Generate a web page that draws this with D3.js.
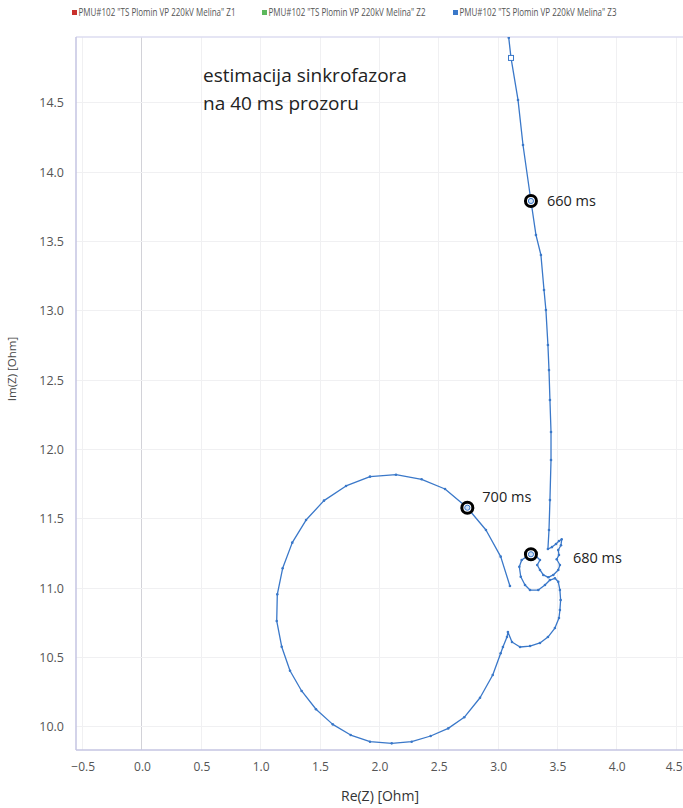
<!DOCTYPE html>
<html>
<head>
<meta charset="utf-8">
<script src="https://cdn.jsdelivr.net/npm/d3@7"></script>
<style>
  html, body { margin: 0; padding: 0; background: #fff; }
  svg { display: block; font-family: "Open Sans", "Noto Sans", sans-serif; }
</style>
</head>
<body>
<svg id="chart" width="683" height="808"></svg>
<script>
// Series names shown in the legend
const seriesNames = [
  'PMU#102 "TS Plomin VP 220kV Melina" Z1',
  'PMU#102 "TS Plomin VP 220kV Melina" Z2',
  'PMU#102 "TS Plomin VP 220kV Melina" Z3'
];
const seriesColors = ["#c9302c", "#5cb85c", "#3a78c9"];

// Z3 impedance trajectory: real part [Ohm]
const re = [
  3.090, 3.109, 3.168, 3.210, 3.277, 3.319, 3.361, 3.387, 3.403, 3.420,
  3.429, 3.437, 3.446, 3.446, 3.437, 3.429, 3.420,
  3.454, 3.488, 3.513, 3.536, 3.530, 3.507, 3.513, 3.494, 3.521, 3.507,
  3.465, 3.423, 3.381, 3.353, 3.330, 3.353, 3.319, 3.277,
  3.241, 3.199, 3.179, 3.191, 3.227, 3.269, 3.339, 3.395, 3.437, 3.479,
  3.507, 3.521, 3.527, 3.521, 3.513, 3.479, 3.420, 3.353, 3.269, 3.185,
  3.117, 3.083, 3.075, 3.041, 3.022,
  2.955, 2.848, 2.715, 2.580, 2.432, 2.272, 2.104, 1.921, 1.758, 1.607,
  1.466, 1.345, 1.247, 1.177, 1.135, 1.140, 1.185, 1.266, 1.382, 1.533,
  1.719, 1.921, 2.140, 2.356, 2.553, 2.741, 2.898, 3.022, 3.100
];
// Z3 impedance trajectory: imaginary part [Ohm]
const im = [
  14.970, 14.825, 14.522, 14.197, 13.793, 13.548, 13.403, 13.151, 13.006, 12.754,
  12.573, 12.357, 12.126, 11.924, 11.635, 11.419, 11.282,
  11.296, 11.318, 11.340, 11.352, 11.309, 11.275, 11.239, 11.208, 11.167, 11.131,
  11.095, 11.078, 11.095, 11.131, 11.167, 11.203, 11.232, 11.244,
  11.227, 11.203, 11.154, 11.082, 11.022, 10.986, 10.986, 11.022, 11.058, 11.071,
  11.046, 10.986, 10.914, 10.842, 10.784, 10.712, 10.647, 10.604, 10.582, 10.575,
  10.611, 10.683, 10.647, 10.575, 10.530,
  10.373, 10.209, 10.068, 9.988, 9.933, 9.892, 9.880, 9.892, 9.940, 10.017,
  10.126, 10.258, 10.404, 10.577, 10.763, 10.955, 11.143, 11.328, 11.491, 11.631,
  11.737, 11.804, 11.818, 11.785, 11.715, 11.580, 11.419, 11.227, 11.015
];

// Time stamps marked on the trajectory
const markerLabels = ["660 ms", "680 ms", "700 ms"];
const markerRe = [3.277, 3.277, 2.741];
const markerIm = [13.793, 11.244, 11.580];

// Axis ticks
const xTicks = [-0.5, 0.0, 0.5, 1.0, 1.5, 2.0, 2.5, 3.0, 3.5, 4.0, 4.5];
const yTicks = [10.0, 10.5, 11.0, 11.5, 12.0, 12.5, 13.0, 13.5, 14.0, 14.5];

const annotationLines = ["estimacija sinkrofazora", "na 40 ms prozoru"];

// ---- layout ----
const plot = { left: 76, right: 683, top: 37, bottom: 750 };
const svg = d3.select("#chart");

const x = d3.scaleLinear().domain([-0.556, 4.558]).range([plot.left, plot.right]);
const y = d3.scaleLinear().domain([9.832, 14.976]).range([plot.bottom, plot.top]);

// gridlines
const grid = svg.append("g");
grid.selectAll("line.vx").data(xTicks).join("line")
  .attr("x1", d => x(d)).attr("x2", d => x(d))
  .attr("y1", plot.top).attr("y2", plot.bottom)
  .attr("stroke", d => d === 0 ? "#d2d2d8" : "#f0f0f2")
  .attr("stroke-width", 1).attr("shape-rendering", "crispEdges");
grid.selectAll("line.hy").data(yTicks).join("line")
  .attr("x1", plot.left).attr("x2", plot.right)
  .attr("y1", d => y(d)).attr("y2", d => y(d))
  .attr("stroke", "#f0f0f2").attr("stroke-width", 1)
  .attr("shape-rendering", "crispEdges");

// frame lines
svg.append("line").attr("x1", plot.left).attr("x2", plot.right)
  .attr("y1", plot.top).attr("y2", plot.top)
  .attr("stroke", "#dcdcf0").attr("stroke-width", 1.5);
svg.append("line").attr("x1", plot.left).attr("x2", plot.left)
  .attr("y1", plot.top).attr("y2", plot.bottom)
  .attr("stroke", "#c4c4e2").attr("stroke-width", 1.5);
svg.append("line").attr("x1", plot.left).attr("x2", plot.right)
  .attr("y1", plot.bottom).attr("y2", plot.bottom)
  .attr("stroke", "#c4c4e2").attr("stroke-width", 1.5);

// axes (labels only, lines drawn above)
const xAxis = d3.axisBottom(x).tickValues(xTicks).tickFormat(d3.format(".1f")).tickSize(0).tickPadding(12);
const gx = svg.append("g").attr("transform", `translate(0,${plot.bottom})`).call(xAxis);
gx.select(".domain").remove();
gx.selectAll("text").attr("font-size", 12).attr("fill", "#555")
  .attr("font-family", "'Open Sans', sans-serif");
// keep the last label inside the page edge
gx.selectAll(".tick").filter(d => d === xTicks[xTicks.length - 1])
  .select("text").attr("text-anchor", "end").attr("x", 682 - x(xTicks[xTicks.length - 1]));

const yAxis = d3.axisLeft(y).tickValues(yTicks).tickFormat(d3.format(".1f")).tickSize(0).tickPadding(12);
const gy = svg.append("g").attr("transform", `translate(${plot.left},0)`).call(yAxis);
gy.select(".domain").remove();
gy.selectAll("text").attr("font-size", 12.5).attr("fill", "#555")
  .attr("font-family", "'Open Sans', sans-serif");

// axis titles
svg.append("text").attr("x", 380).attr("y", 801).attr("text-anchor", "middle")
  .attr("font-size", 14).attr("fill", "#333").text("Re(Z) [Ohm]");
svg.append("text").attr("transform", "translate(16,369) rotate(-90)")
  .attr("text-anchor", "middle").attr("font-size", 11.5).attr("fill", "#444")
  .text("Im(Z) [Ohm]");

// legend
const legendX = [72, 262, 453];
const lg = svg.append("g");
seriesNames.forEach((name, i) => {
  lg.append("rect").attr("x", legendX[i]).attr("y", 10).attr("width", 5).attr("height", 5)
    .attr("fill", seriesColors[i]);
  lg.append("text").attr("x", legendX[i] + 6.5).attr("y", 16)
    .attr("font-size", 10).attr("fill", "#555")
    .attr("textLength", 157).attr("lengthAdjust", "spacingAndGlyphs")
    .text(name);
});

// annotation
svg.append("g").selectAll("text").data(annotationLines).join("text")
  .attr("x", 203).attr("y", (d, i) => 82 + i * 28)
  .attr("font-size", 19).attr("fill", "#222").text(d => d);

// trajectory
const pts = re.map((v, i) => [v, im[i]]);
svg.append("defs").append("clipPath").attr("id", "plotClip")
  .append("rect").attr("x", plot.left).attr("y", plot.top)
  .attr("width", plot.right - plot.left).attr("height", plot.bottom - plot.top);

const gTraj = svg.append("g").attr("clip-path", "url(#plotClip)");
const line = d3.line().x(d => x(d[0])).y(d => y(d[1]));
gTraj.append("path").datum(pts).attr("d", line)
  .attr("fill", "none").attr("stroke", seriesColors[2])
  .attr("stroke-width", 1.3).attr("stroke-linejoin", "round");
gTraj.selectAll("circle.pt").data(pts).join("circle")
  .attr("cx", d => x(d[0])).attr("cy", d => y(d[1])).attr("r", 1.3)
  .attr("fill", seriesColors[2]);

// selected sample (hollow square)
gTraj.append("rect")
  .attr("x", x(re[1]) - 2.5).attr("y", y(im[1]) - 2.5)
  .attr("width", 5).attr("height", 5)
  .attr("fill", "#fff").attr("stroke", seriesColors[2]).attr("stroke-width", 1);

// time markers
const labelOffsets = [[16, 5], [42, 9], [15, -6]];
const gm = svg.append("g");
markerLabels.forEach((lab, i) => {
  const cx = x(markerRe[i]), cy = y(markerIm[i]);
  gm.append("circle").attr("cx", cx).attr("cy", cy).attr("r", 5.5)
    .attr("fill", "#fff").attr("stroke", "#000").attr("stroke-width", 3);
  gm.append("circle").attr("cx", cx).attr("cy", cy).attr("r", 2.6)
    .attr("fill", "#cfe0f5").attr("stroke", seriesColors[2]).attr("stroke-width", 1);
  gm.append("text").attr("x", cx + labelOffsets[i][0]).attr("y", cy + labelOffsets[i][1])
    .attr("font-size", 14.5).attr("fill", "#222").text(lab);
});
</script>
</body>
</html>
